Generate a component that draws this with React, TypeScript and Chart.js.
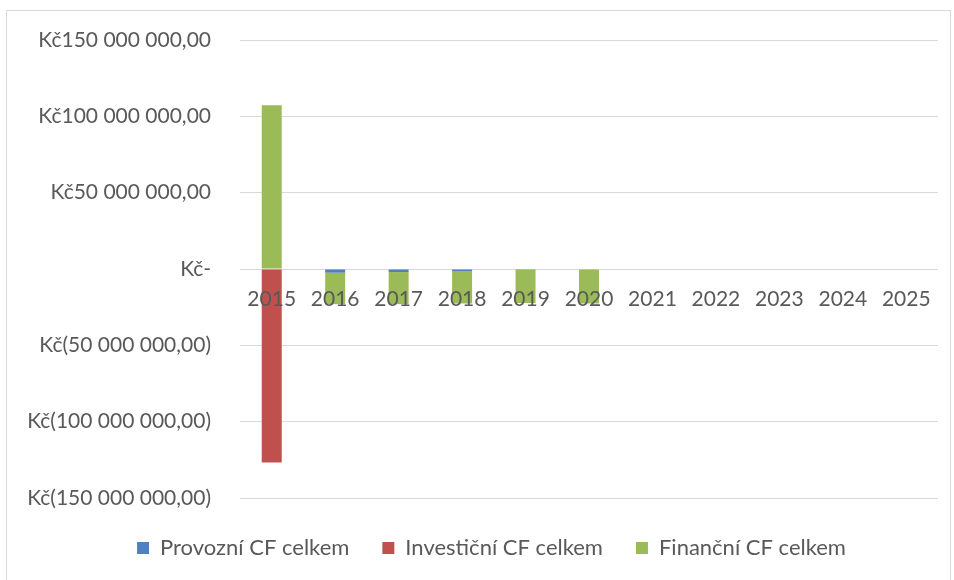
import React, { useEffect, useRef } from "react";
import { Chart, registerables } from "chart.js";

Chart.register(...registerables);

const years = ["2015", "2016", "2017", "2018", "2019", "2020", "2021", "2022", "2023", "2024", "2025"];
const provozniCF = [0, -2.4e6, -2.0e6, -1.3e6, -0.5e6, 0, 0, 0, 0, 0, 0];
const investicniCF = [-126.8e6, 0, 0, 0, 0, 0, 0, 0, 0, 0, 0];
const financniCF = [107.2e6, -20.6e6, -21.0e6, -21.3e6, -21.8e6, -22.6e6, 0, 0, 0, 0, 0];
const seriesNames = ["Provozní CF celkem", "Investiční CF celkem", "Finanční CF celkem"];
const seriesColors = ["#4F81BD", "#C0504D", "#9BBB59"];
const yMin = -150e6;
const yMax = 150e6;
const yStep = 50e6;

function formatKc(v: number): string {
  if (v === 0) return "Kč-";
  const abs = Math.abs(v);
  const s = abs.toFixed(0).replace(/\B(?=(\d{3})+(?!\d))/g, " ") + ",00";
  return v < 0 ? `Kč(${s})` : `Kč${s}`;
}

const FONT = "Lato";
const TEXT = "#595959";
const GRID = "#d9d9d9";
const LEGEND_SHIFT = 19;

const legendShift = {
  id: "legendShift",
  afterUpdate(chart: any) {
    const lg = chart.legend;
    if (lg) {
      lg.left += LEGEND_SHIFT;
      lg.right += LEGEND_SHIFT;
    }
  },
};

export default function App() {
  const ref = useRef<HTMLCanvasElement | null>(null);

  useEffect(() => {
    if (!ref.current) return;
    const chart = new Chart(ref.current, {
      type: "bar",
      data: {
        labels: years,
        datasets: [
          { label: seriesNames[0], data: provozniCF, backgroundColor: seriesColors[0] },
          { label: seriesNames[1], data: investicniCF, backgroundColor: seriesColors[1] },
          { label: seriesNames[2], data: financniCF, backgroundColor: seriesColors[2] },
        ],
      },
      plugins: [legendShift],
      options: {
        responsive: false,
        animation: false,
        datasets: { bar: { categoryPercentage: 0.315, barPercentage: 1 } },
        layout: { padding: { top: 29, right: 12, bottom: 10, left: 0 } },
        plugins: {
          tooltip: { enabled: false },
          legend: {
            position: "bottom",
            labels: {
              boxWidth: 12,
              boxHeight: 12,
              padding: 33,
              color: TEXT,
              font: { family: FONT, size: 22 },
            },
          },
        },
        scales: {
          x: {
            stacked: true,
            position: { y: 0 } as any,
            grid: { display: false },
            border: { display: false },
            ticks: {
              z: 1,
              color: TEXT,
              font: { family: FONT, size: 21 },
              padding: 10,
              maxRotation: 0,
              autoSkip: false,
            },
          },
          xGap: {
            type: "category",
            position: "bottom",
            grid: { display: false },
            border: { display: false },
            ticks: { display: false },
            afterFit: (s: any) => {
              s.height = 6;
            },
          },
          y: {
            stacked: true,
            min: yMin,
            max: yMax,
            ticks: {
              stepSize: yStep,
              color: TEXT,
              font: { family: FONT, size: 21 },
              padding: 0,
              callback: (v: any) => formatKc(Number(v)),
            },
            grid: { color: GRID, drawTicks: true, tickLength: 29, tickColor: "rgba(0,0,0,0)" },
            border: { display: false },
            afterFit: (s: any) => {
              s.width = 233;
            },
          },
        },
      },
    });
    return () => chart.destroy();
  }, []);

  return (
    <div
      style={{
        position: "absolute",
        left: 6,
        top: 10,
        width: 945,
        height: 580,
        border: "1px solid #d9d9d9",
        boxSizing: "border-box",
        background: "#fff",
      }}
    >
      <canvas ref={ref} width={943} height={568} style={{ display: "block", width: 943, height: 568 }} />
    </div>
  );
}
